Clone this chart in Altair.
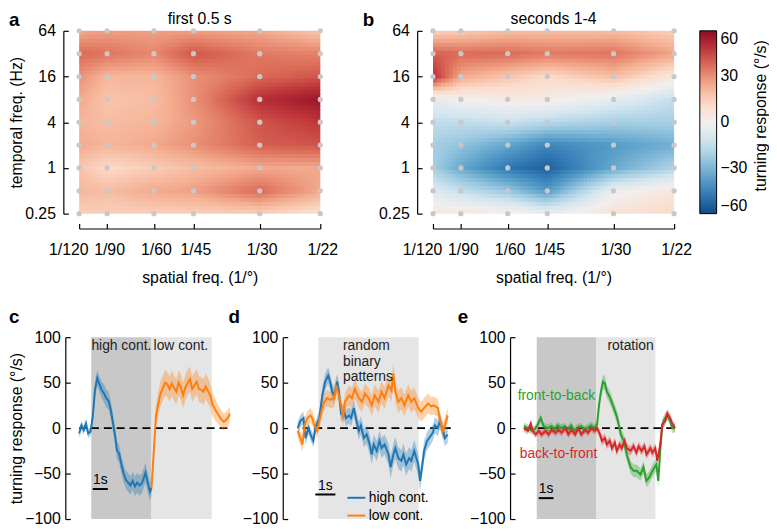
import altair as alt
import numpy as np
import pandas as pd

FONT = "Liberation Sans"

# ---------------- panels a / b : heat maps ----------------
SF_DEN = [120, 90, 60, 45, 30, 22]
TF = [0.25, 0.5, 1, 2, 4, 8, 16, 32, 64]
TF_TICKS = [0.25, 1, 4, 16, 64]

# rows: temporal freq 0.25 ... 64 ; columns: spatial freq 1/120 ... 1/22
A_VALUES = [
    [15, 15, 15, 15, 15, 9],
    [22, 20, 25, 27, 38, 25],
    [18, 12, 16, 20, 25, 25],
    [25, 22, 25, 30, 40, 42],
    [22, 20, 22, 28, 42, 48],
    [25, 18, 20, 30, 50, 57],
    [30, 22, 22, 30, 38, 42],
    [38, 36, 32, 42, 35, 33],
    [25, 27, 27, 27, 25, 18],
]
B_VALUES = [
    [6, 5, 4, -3, 8, 12],
    [-8, -15, -25, -38, -3, 6],
    [-22, -34, -48, -54, -34, -20],
    [-22, -26, -35, -44, -38, -32],
    [-16, -16, -14, -18, -22, -22],
    [-4, 0, 3, 3, -5, -15],
    [50, 25, 18, 12, 20, 6],
    [40, 38, 38, 35, 36, 26],
    [14, 16, 20, 20, 20, 15],
]
CBAR_TITLE = "turning response (°/s)"

SF = [1.0 / d for d in SF_DEN]
W_TOP, H_TOP = 244, 185


def field(values, nu=61, nv=46):
    vals = np.array(values, float)
    u = np.sqrt(SF)
    v = np.log2(TF)
    ue = np.linspace(u[0], u[-1], nu + 1)
    ve = np.linspace(v[0], v[-1], nv + 1)
    uc = (ue[:-1] + ue[1:]) / 2
    vc = (ve[:-1] + ve[1:]) / 2
    rows_u = np.array([np.interp(uc, u, r) for r in vals])
    f = np.array([np.interp(vc, v, rows_u[:, i]) for i in range(nu)]).T
    du = ue[1] - ue[0]
    dv = ve[1] - ve[0]
    recs = []
    for j in range(nv):
        for i in range(nu):
            recs.append(dict(
                sf0=round(float(ue[i] ** 2), 7),
                sf1=round(float(min(ue[i + 1] + 0.2 * du, u[-1]) ** 2), 7),
                tf0=round(float(2 ** ve[j]), 5),
                tf1=round(float(2 ** min(ve[j + 1] + 0.2 * dv, v[-1])), 5),
                val=round(float(f[j, i]), 1)))
    return pd.DataFrame(recs)


dots_df = pd.DataFrame([dict(sf=s, tf=t) for s in SF for t in TF])

xs_top = alt.Scale(type="pow", exponent=0.5, domain=[SF[0], SF[-1]], nice=False, zero=False)
ys_top = alt.Scale(type="log", base=2, domain=[0.25, 64], nice=False)
cscale = alt.Scale(domain=[-60, 60], scheme=alt.SchemeParams(name="redblue", extent=[1, 0]))

FIRST_TICK = "datum.value < 0.009"


def label_layer(text, x, y, size=16, weight="normal", align="center", baseline="middle",
                angle=0):
    return alt.Chart(pd.DataFrame({"s": [text]})).mark_text(
        font=FONT, fontSize=size, fontWeight=weight, align=align, baseline=baseline,
        angle=angle, color="black").encode(text="s:N", x=alt.value(x), y=alt.value(y))


def heat_panel(values, title, letter, ytitle, legend, extra=None):
    cells = alt.Chart(field(values)).mark_rect(strokeWidth=0).encode(
        x=alt.X("sf0:Q", scale=xs_top, axis=alt.Axis(
            orient="bottom", offset=15, values=SF, ticks=False, labelPadding=13,
            labelExpr="'1/' + round(1 / datum.value)", title="spatial freq. (1/°)",
            titlePadding=13, labelFlush=False, labelOverlap=False,
            labelAlign={"condition": {"test": FIRST_TICK, "value": "right"},
                        "value": "center"},
            labelOffset={"condition": {"test": FIRST_TICK, "value": 9}, "value": 2})),
        x2="sf1:Q",
        y=alt.Y("tf0:Q", scale=ys_top, axis=alt.Axis(
            orient="left", offset=16, values=TF_TICKS, format="~g", ticks=False,
            labelPadding=8, title=ytitle, titlePadding=0, labelFlush=False,
            labelOverlap=False)),
        y2="tf1:Q",
        color=alt.Color("val:Q", scale=cscale, legend=legend),
    )
    dots = alt.Chart(dots_df).mark_circle(size=28, color="#c8c8c8", opacity=1).encode(
        x=alt.X("sf:Q", scale=xs_top, axis=alt.Axis(
            orient="top", offset=-(H_TOP + 15), values=SF, labels=False, domain=False,
            tickSize=5, title=None)),
        y=alt.Y("tf:Q", scale=ys_top, axis=alt.Axis(
            orient="right", offset=-(W_TOP + 16), values=TF_TICKS, labels=False,
            domain=False, tickSize=5, title=None)),
    )
    layers = [cells, dots,
              label_layer(letter, -71, -10.5, size=19, weight="bold", align="left"),
              label_layer(title, W_TOP / 2, -12)]
    if extra is not None:
        layers.append(extra)
    return alt.layer(*layers).resolve_axis(x="independent", y="independent").properties(
        width=W_TOP, height=H_TOP)


legend_b = alt.Legend(
    title=None, orient="right", direction="vertical",
    gradientLength=185, gradientThickness=17, values=[60, 30, 0, -30, -60],
    format="d", labelFontSize=16, labelFont=FONT,
    gradientStrokeColor="black", gradientStrokeWidth=1, offset=26, padding=0,
    labelOffset=4)

panel_a = heat_panel(A_VALUES, "first 0.5 s", "a", "temporal freq. (Hz)", None)
panel_b = heat_panel(B_VALUES, "seconds 1-4", "b", None, legend_b,
                     label_layer(CBAR_TITLE, 332, 86, angle=270))

# ---------------- panels c / d / e : time courses ----------------
BLUE, ORANGE, GREEN, RED = "#1f77b4", "#ff7f0e", "#2ca02c", "#d62728"
DARK, LIGHT = "#c8c8c8", "#e5e5e5"

C_HIGH_T = [-0.8, -0.65, -0.5, -0.35, -0.2, -0.05, 0.1, 0.25, 0.4, 0.55, 0.7, 0.85, 1.0,
            1.15, 1.3, 1.45, 1.6, 1.7, 1.85, 2.0, 2.15, 2.3, 2.45, 2.6, 2.75, 2.9, 3.05,
            3.2, 3.35, 3.5, 3.6, 3.75, 3.9, 4.0]
C_HIGH_V = [-6, 3, -2, 5, -6, -4, 12, 42, 55, 48, 42, 38, 33, 30, 20, 5, -10, -24, -28,
            -40, -50, -57, -60, -63, -58, -64, -60, -63, -61, -54, -49, -60, -70, -66]
C_HIGH_S = [5, 5, 5, 5, 5, 5, 7, 8, 9, 9, 9, 10, 10, 10, 10, 10, 10, 10, 10, 10, 10, 10,
            10, 10, 10, 11, 11, 11, 11, 11, 11, 11, 10, 9]
C_LOW_T = [4.0, 4.1, 4.2, 4.3, 4.45, 4.6, 4.75, 4.9, 5.05, 5.2, 5.35, 5.5, 5.65, 5.8, 5.95,
           6.1, 6.25, 6.4, 6.55, 6.7, 6.85, 7.0, 7.15, 7.3, 7.45, 7.6, 7.75, 7.9, 8.05,
           8.2, 8.35, 8.5, 8.65, 8.8, 8.95, 9.1, 9.2]
C_LOW_V = [-66, -40, -12, 14, 27, 38, 44, 50, 48, 43, 49, 44, 40, 50, 45, 36, 45, 50, 54,
           43, 47, 51, 43, 42, 40, 46, 41, 36, 26, 21, 17, 13, 9, 7, 9, 12, 16]
C_LOW_S = [8, 9, 10, 12, 13, 14, 14, 14, 14, 14, 14, 14, 14, 14, 14, 14, 14, 14, 14, 14,
           14, 14, 14, 14, 14, 14, 14, 13, 13, 12, 11, 10, 10, 9, 9, 9, 8]

D_HIGH_T = [-1.03, -0.89, -0.74, -0.64, -0.49, -0.39, -0.25, -0.15, 0.05, 0.2, 0.34, 0.49,
            0.59, 0.69, 0.79, 0.94, 1.03, 1.13, 1.28, 1.38, 1.53, 1.63, 1.77, 1.87, 2.02,
            2.12, 2.27, 2.41, 2.56, 2.66, 2.76, 2.91, 3.05, 3.15, 3.3, 3.5, 3.6, 3.74, 3.84,
            3.99, 4.14, 4.24, 4.38, 4.53, 4.63, 4.78, 4.98, 5.07, 5.17, 5.27, 5.42, 5.52,
            5.71, 5.81, 5.96, 6.06, 6.21, 6.31, 6.45]
D_HIGH_V = [0, 8, 11, -11, 0, -7, -14, 0, 11, 36, 51, 58, 51, 40, 36, 51, 40, 16, 18, 11,
            14, 11, 22, 11, -3, 3, -11, -7, -18, -29, -18, -25, -14, -22, -18, -29, -43,
            -29, -22, -33, -36, -29, -40, -33, -36, -25, -40, -58, -43, -25, -14, -11, -5,
            3, 0, 8, -3, -11, -7]
D_HIGH_S = [7, 7, 7, 7, 7, 7, 7, 7, 8, 9, 9, 9, 9, 9, 9, 9, 9, 9, 9, 9, 9, 9, 9, 9, 10, 10,
            10, 10, 11, 11, 11, 11, 11, 11, 11, 12, 12, 12, 12, 12, 12, 12, 12, 12, 12, 12,
            12, 12, 11, 11, 10, 10, 9, 9, 9, 9, 9, 9, 9]
D_LOW_T = [-1.03, -0.89, -0.79, -0.69, -0.54, -0.39, -0.3, -0.2, -0.05, 0.05, 0.2, 0.3,
           0.44, 0.59, 0.79, 0.89, 1.03, 1.13, 1.23, 1.33, 1.53, 1.67, 1.82, 2.02, 2.17,
           2.32, 2.51, 2.66, 2.81, 3.0, 3.15, 3.3, 3.5, 3.65, 3.74, 3.84, 3.99, 4.14, 4.29,
           4.48, 4.63, 4.78, 4.98, 5.12, 5.27, 5.47, 5.62, 5.76, 5.96, 6.06, 6.21, 6.31,
           6.45]
D_LOW_V = [-3, -11, -18, 3, 11, 14, 11, 3, -3, 8, 22, 29, 33, 31, 33, 47, 36, 25, 11, 29,
           36, 33, 43, 33, 29, 38, 33, 25, 36, 29, 40, 33, 47, 41, 60, 40, 29, 33, 25, 36,
           29, 33, 22, 18, 22, 27, 24, 25, 22, 9, -3, 3, 14]
D_LOW_S = [8, 8, 8, 8, 8, 8, 8, 8, 8, 8, 9, 9, 9, 9, 10, 10, 10, 10, 10, 10, 11, 11, 11, 11,
           11, 11, 11, 11, 12, 12, 12, 12, 12, 12, 12, 12, 12, 12, 12, 12, 12, 12, 11, 11,
           11, 11, 10, 10, 10, 9, 9, 9, 9]

E_F2B_T = [-0.87, -0.6, -0.33, -0.13, 0.07, 0.27, 0.47, 0.73, 1.0, 1.2, 1.4, 1.67, 1.87,
           2.07, 2.33, 2.53, 2.73, 3.0, 3.2, 3.4, 3.67, 3.87, 4.07, 4.2, 4.33, 4.47, 4.6,
           4.73, 4.87, 5.0, 5.2, 5.4, 5.53, 5.67, 5.87, 6.07, 6.33, 6.53, 6.73, 7.0, 7.2,
           7.4, 7.6, 7.8, 8.07, 8.2, 8.33, 8.47, 8.67, 8.8, 9.0, 9.13, 9.33]
E_F2B_V = [2, 0, -3, -1, 4, 11, 2, 0, 2, -2, 3, 0, 2, -2, 3, -3, 0, 2, -2, 0, 3, 0, 4, 25,
           40, 51, 49, 40, 36, 31, 22, 13, 4, -7, -14, -29, -43, -47, -47, -51, -43, -58,
           -54, -47, -40, -58, -25, 4, 11, 14, 8, 0, 0]
E_F2B_S = [4, 4, 4, 4, 4, 4, 4, 4, 4, 4, 4, 4, 4, 4, 4, 4, 4, 4, 4, 4, 4, 4, 5, 6, 7, 8, 8,
           7, 7, 7, 7, 7, 7, 7, 7, 7, 7, 7, 7, 7, 7, 7, 7, 7, 7, 7, 7, 6, 6, 5, 5, 5, 5]
E_B2F_T = [-0.87, -0.6, -0.4, -0.27, -0.07, 0.13, 0.33, 0.6, 0.8, 1.0, 1.27, 1.47, 1.67,
           1.93, 2.13, 2.33, 2.6, 2.8, 3.0, 3.27, 3.47, 3.67, 3.93, 4.07, 4.27, 4.4, 4.6,
           4.73, 4.93, 5.07, 5.27, 5.4, 5.6, 5.73, 5.93, 6.07, 6.33, 6.53, 6.73, 6.87, 7.07,
           7.27, 7.4, 7.67, 7.8, 8.0, 8.13, 8.33, 8.47, 8.67, 8.8, 9.0, 9.13, 9.33]
E_B2F_V = [0, -3, 5, -3, -7, -3, -7, -3, -7, -2, -5, -2, -5, 0, -7, -2, -7, 0, -7, -2, -5,
           0, -3, 0, -7, -14, -11, -18, -14, -22, -16, -25, -18, -22, -14, -22, -25, -20,
           -27, -20, -25, -20, -29, -22, -27, -22, -36, -18, 4, 8, 16, 11, 5, 0]
E_B2F_S = [4, 4, 4, 4, 4, 4, 4, 4, 4, 4, 4, 4, 4, 4, 4, 4, 4, 4, 4, 4, 4, 4, 4, 4, 5, 5, 5,
           5, 5, 5, 5, 5, 5, 5, 5, 5, 5, 5, 5, 5, 5, 5, 5, 5, 5, 5, 5, 5, 5, 5, 5, 5, 5, 4]

W_BOT, H_BOT = 150, 184


def series_df(name, ts, vs, ss):
    return pd.DataFrame({"t": ts, "v": vs, "lo": np.array(vs) - np.array(ss),
                         "hi": np.array(vs) + np.array(ss), "series": name})


def trace_panel(letter, domain, yoffset, bg, series, names, colors, texts, bar,
                ytitle=None, legend=None):
    xsc = alt.Scale(domain=domain, nice=False, zero=False)
    ysc = alt.Scale(domain=[-100, 100], nice=False, zero=False)
    bg_df = pd.DataFrame(bg, columns=["t0", "t1", "fill"])
    bg_df["y0"] = -100
    bg_df["y1"] = 100
    bgl = alt.Chart(bg_df).mark_rect().encode(
        x=alt.X("t0:Q", scale=xsc, axis=None), x2="t1:Q",
        y=alt.Y("y0:Q", scale=ysc, axis=alt.Axis(
            orient="left", offset=yoffset, values=[-100, -50, 0, 50, 100], ticks=False,
            labelPadding=5, title=ytitle, titlePadding=0, labelFlush=False,
            labelOverlap=False)),
        y2="y1:Q",
        fill=alt.Fill("fill:N", scale=None),
    )
    zero = alt.Chart(pd.DataFrame({"z": [0]})).mark_rule(
        strokeDash=[8, 5], strokeWidth=2, color="black").encode(
        y=alt.Y("z:Q", scale=ysc, axis=None))
    df = pd.concat(series, ignore_index=True)
    band = alt.Chart(df).mark_area(opacity=0.35).encode(
        x=alt.X("t:Q", scale=xsc, axis=None),
        y=alt.Y("lo:Q", scale=ysc, axis=alt.Axis(
            orient="right", offset=-(W_BOT + yoffset), values=[-100, -50, 0, 50, 100],
            labels=False, domain=False, tickSize=5, title=None)),
        y2="hi:Q",
        fill=alt.Fill("series:N", scale=alt.Scale(domain=names, range=colors), legend=None),
    )
    line = alt.Chart(df).mark_line(strokeWidth=2).encode(
        x=alt.X("t:Q", scale=xsc, axis=None),
        y=alt.Y("v:Q", scale=ysc, axis=None),
        color=alt.Color("series:N", scale=alt.Scale(domain=names, range=colors),
                        legend=legend),
    )
    bar_df = pd.DataFrame([bar], columns=["t0", "t1", "v"])
    barl = alt.Chart(bar_df).mark_rule(strokeWidth=2, color="black").encode(
        x=alt.X("t0:Q", scale=xsc, axis=None), x2="t1:Q",
        y=alt.Y("v:Q", scale=ysc, axis=None))
    bar_df["tm"] = (bar_df["t0"] + bar_df["t1"]) / 2
    bar_df["lab"] = "1s"
    bartxt = alt.Chart(bar_df).mark_text(
        font=FONT, fontSize=14, baseline="bottom", dy=-2).encode(
        x=alt.X("tm:Q", scale=xsc, axis=None), y=alt.Y("v:Q", scale=ysc, axis=None),
        text="lab:N")
    layers = [bgl, zero, band, line, barl, bartxt]
    for (txt, t, v, col, align) in texts:
        layers.append(alt.Chart(pd.DataFrame({"t": [t], "v": [v], "s": [txt]})).mark_text(
            font=FONT, fontSize=14, color=col, align=align, baseline="middle",
            lineBreak="\n", lineHeight=15.5).encode(
            x=alt.X("t:Q", scale=xsc, axis=None), y=alt.Y("v:Q", scale=ysc, axis=None),
            text="s:N"))
    lx = {"c": -71, "d": -75, "e": -69}[letter]
    layers.append(label_layer(letter, lx, -20, size=19, weight="bold", align="left"))
    return alt.layer(*layers).resolve_axis(y="independent").resolve_scale(
        fill="independent").properties(width=W_BOT, height=H_BOT)


panel_c = trace_panel(
    "c", [-0.8, 9.036], 14, [(0, 4, DARK), (4, 8, LIGHT)],
    [series_df("high cont.", C_HIGH_T, C_HIGH_V, C_HIGH_S),
     series_df("low cont.", C_LOW_T, C_LOW_V, C_LOW_S)],
    ["high cont.", "low cont."], [BLUE, ORANGE],
    [("high cont.", 2.0, 90, "#222222", "center"), ("low cont.", 5.95, 90, "#222222", "center")],
    (0.1, 1.1, -67), ytitle="turning response (°/s)")

legend_d = alt.Legend(orient="none", legendX=44, legendY=152, symbolType="stroke",
                      symbolStrokeWidth=2, symbolSize=330, labelFontSize=14,
                      labelFont=FONT, title=None, rowPadding=0, labelOffset=2,
                      padding=0)
panel_d = trace_panel(
    "d", [-0.788, 6.601], 20, [(0, 5, LIGHT)],
    [series_df("high cont.", D_HIGH_T, D_HIGH_V, D_HIGH_S),
     series_df("low cont.", D_LOW_T, D_LOW_V, D_LOW_S)],
    ["high cont.", "low cont."], [BLUE, ORANGE],
    [("random\nbinary\npatterns", 1.23, 90, "#222222", "left")],
    (-0.15, 0.85, -73), legend=legend_d)

panel_e = trace_panel(
    "e", [-0.733, 9.267], 16, [(0, 4, DARK), (4, 8, LIGHT)],
    [series_df("front-to-back", E_F2B_T, E_F2B_V, E_F2B_S),
     series_df("back-to-front", E_B2F_T, E_B2F_V, E_B2F_S)],
    ["front-to-back", "back-to-front"], [GREEN, RED],
    [("rotation", 6.33, 90, "#222222", "center"),
     ("front-to-back", 1.33, 35, GREEN, "center"),
     ("back-to-front", 1.47, -28, RED, "center")],
    (0.13, 1.13, -77))

top = alt.hconcat(panel_a, panel_b, spacing=114, bounds="flush").resolve_scale(
    x="independent", y="independent", color="independent")
bottom = alt.hconcat(panel_c, panel_d, panel_e, spacing=76, bounds="flush").resolve_scale(
    x="independent", y="independent", color="independent", fill="independent")

chart = alt.vconcat(top, bottom, spacing=23).resolve_scale(
    color="independent", fill="independent", x="independent", y="independent"
).properties(padding=0).configure_view(strokeWidth=0).configure_axis(
    labelFont=FONT, titleFont=FONT, labelFontSize=16, titleFontSize=16,
    labelColor="black", titleColor="black", domainColor="black", tickColor="black",
    titleFontWeight="normal", grid=False, domainWidth=1.2, tickWidth=1.2)

chart.save("out.html", embed_options={"renderer": "svg", "actions": False})
